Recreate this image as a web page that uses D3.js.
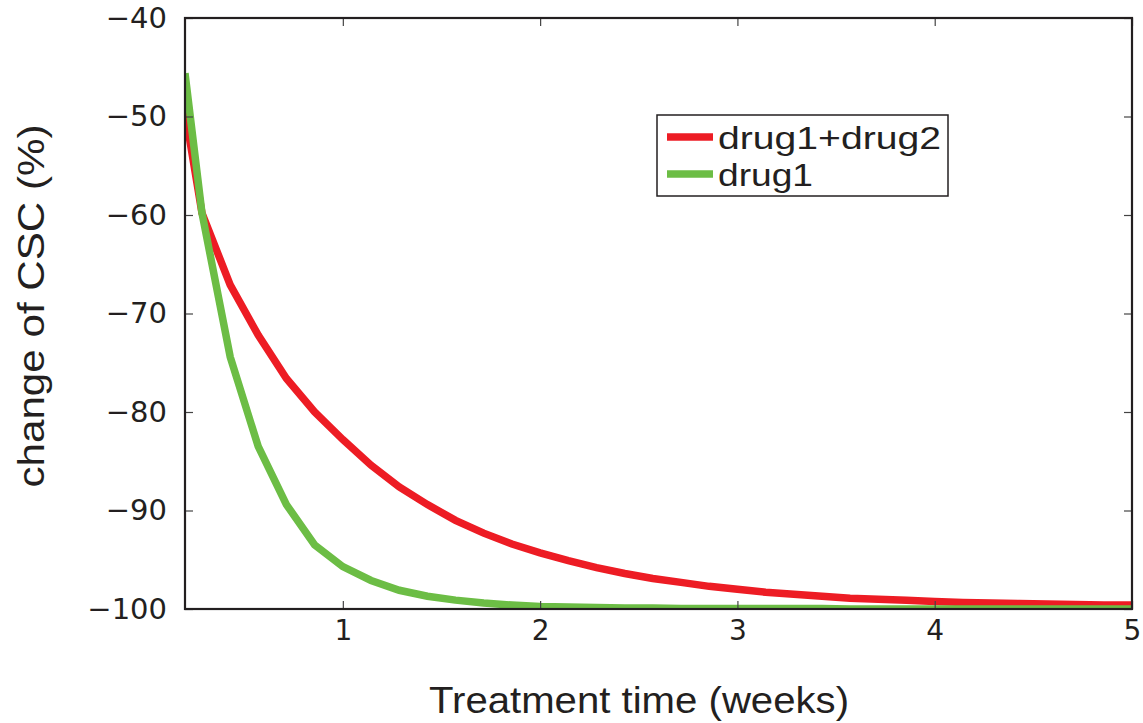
<!DOCTYPE html>
<html>
<head>
<meta charset="utf-8">
<script src="https://cdn.jsdelivr.net/npm/d3@7/dist/d3.min.js"></script>
<style>
    body { margin: 0; background: #fff; }
</style>
</head>
<body>
<div id="grafico"></div>
<script>
// ---------- DATOS ----------
var semanas = [0.2, 0.286, 0.429, 0.571, 0.714, 0.857, 1.0, 1.143, 1.286, 1.429, 1.571, 1.714, 1.857, 2.0,
    2.143, 2.286, 2.429, 2.571, 2.714, 2.857, 3.0, 3.143, 3.286, 3.429, 3.571, 3.714, 3.857, 4.0,
    4.143, 4.286, 4.429, 4.571, 4.714, 4.857, 5.0];

var drug1drug2 = [-49.5, -59.8, -67.1, -72.2, -76.6, -80.0, -82.8, -85.4, -87.6, -89.4, -91.0, -92.3, -93.4, -94.3,
    -95.1, -95.8, -96.4, -96.9, -97.3, -97.7, -98.0, -98.3, -98.5, -98.7, -98.9, -99.0, -99.1, -99.25,
    -99.35, -99.4, -99.45, -99.5, -99.55, -99.6, -99.6];

var drug1 = [-45.6, -59.8, -74.4, -83.5, -89.4, -93.5, -95.7, -97.1, -98.1, -98.7, -99.1, -99.4, -99.6, -99.75,
    -99.8, -99.85, -99.9, -99.9, -99.95, -99.95, -99.95, -99.95, -99.95, -99.95, -100, -100, -100, -100,
    -100, -100, -100, -100, -100, -100, -100];

var nombresSeries = ['drug1+drug2', 'drug1'];
var coloresSeries = ['#ed1c24', '#6cbd45'];

var xTicks = [1, 2, 3, 4, 5];
var xTickLabels = ['1', '2', '3', '4', '5'];
var yTicks = [-100, -90, -80, -70, -60, -50, -40];
var yTickLabels = ['\u2212100', '\u221290', '\u221280', '\u221270', '\u221260', '\u221250', '\u221240'];

var tituloX = 'Treatment time (weeks)';
var tituloY = 'change of CSC (%)';

// ---------- TAMAÑO ----------
var ancho = 1143, alto = 723;
var izq = 185, der = 1132, arriba = 18, abajo = 609;
var colorTexto = '#231f20';

var svg = d3.select('#grafico').append('svg')
    .attr('width', ancho)
    .attr('height', alto)
    .style('display', 'block');

svg.append('rect').attr('width', ancho).attr('height', alto).attr('fill', '#fff');

// ---------- ESCALAS ----------
var scale_x = d3.scaleLinear().domain([0.2, 5]).range([izq, der]);
var scale_y = d3.scaleLinear().domain([-100, -40]).range([abajo, arriba]);

// recorte al area del grafico
svg.append('clipPath').attr('id', 'recorte')
    .append('rect')
    .attr('x', izq).attr('y', arriba)
    .attr('width', der - izq).attr('height', abajo - arriba);

// ---------- LINEAS ----------
var line = d3.line()
    .x(function (d) { return scale_x(d[0]); })
    .y(function (d) { return scale_y(d[1]); });

var series = [drug1drug2, drug1];
series.forEach(function (valores, i) {
    var puntos = semanas.map(function (s, j) { return [s, valores[j]]; });
    svg.append('path')
        .attr('d', line(puntos))
        .attr('clip-path', 'url(#recorte)')
        .attr('fill', 'none')
        .attr('stroke', coloresSeries[i])
        .attr('stroke-width', 7.5)
        .attr('stroke-linejoin', 'miter');
});

// ---------- EJES (ticks hacia adentro) ----------
function estiloEje(tam) {
    return function (g) {
        g.select('.domain').remove();
        g.selectAll('.tick line').attr('stroke', '#444').attr('stroke-width', 1.2);
        g.selectAll('.tick text')
            .attr('fill', colorTexto)
            .style('font-family', '"DejaVu Sans", sans-serif')
            .style('font-size', tam + 'px');
    };
}

svg.append('g')
    .attr('transform', 'translate(0,' + abajo + ')')
    .call(d3.axisBottom(scale_x).tickValues(xTicks).tickSizeInner(-8).tickSizeOuter(0).tickPadding(11)
        .tickFormat(function (d, i) { return xTickLabels[i]; }))
    .call(estiloEje(28));

svg.append('g')
    .attr('transform', 'translate(' + izq + ',0)')
    .call(d3.axisLeft(scale_y).tickValues(yTicks).tickSizeInner(-8).tickSizeOuter(0).tickPadding(18)
        .tickFormat(function (d, i) { return yTickLabels[i]; }))
    .call(estiloEje(29));

svg.append('g')
    .attr('transform', 'translate(0,' + arriba + ')')
    .call(d3.axisTop(scale_x).tickValues(xTicks).tickSizeInner(-8).tickSizeOuter(0).tickFormat(''))
    .call(estiloEje(28));

svg.append('g')
    .attr('transform', 'translate(' + der + ',0)')
    .call(d3.axisRight(scale_y).tickValues(yTicks).tickSizeInner(-8).tickSizeOuter(0).tickFormat(''))
    .call(estiloEje(28));

// marco
svg.append('rect')
    .attr('x', izq).attr('y', arriba)
    .attr('width', der - izq).attr('height', abajo - arriba)
    .attr('fill', 'none')
    .attr('stroke', colorTexto)
    .attr('stroke-width', 2.2);

// ---------- TITULOS ----------
svg.append('text')
    .attr('x', 639)
    .attr('y', 713)
    .attr('text-anchor', 'middle')
    .attr('textLength', 420)
    .attr('lengthAdjust', 'spacingAndGlyphs')
    .style('font-family', '"Liberation Sans", Arial, sans-serif')
    .style('font-size', '37px')
    .attr('fill', colorTexto)
    .text(tituloX);

svg.append('text')
    .attr('transform', 'translate(44,306) rotate(-90)')
    .attr('text-anchor', 'middle')
    .attr('textLength', 363)
    .attr('lengthAdjust', 'spacingAndGlyphs')
    .style('font-family', '"Liberation Sans", Arial, sans-serif')
    .style('font-size', '37px')
    .attr('fill', colorTexto)
    .text(tituloY);

// ---------- LEYENDA ----------
var leyenda = svg.append('g');
leyenda.append('rect')
    .attr('x', 657).attr('y', 115)
    .attr('width', 291).attr('height', 81)
    .attr('fill', '#fff')
    .attr('stroke', colorTexto)
    .attr('stroke-width', 1.5);

var largosTexto = [223, 95];
nombresSeries.forEach(function (nombre, i) {
    var yc = 137 + i * 37;
    leyenda.append('line')
        .attr('x1', 667).attr('x2', 713)
        .attr('y1', yc).attr('y2', yc)
        .attr('stroke', coloresSeries[i])
        .attr('stroke-width', 7.5);
    leyenda.append('text')
        .attr('x', 718)
        .attr('y', yc + 12)
        .attr('textLength', largosTexto[i])
        .attr('lengthAdjust', 'spacingAndGlyphs')
        .style('font-family', '"Liberation Sans", Arial, sans-serif')
        .style('font-size', '31px')
        .attr('fill', colorTexto)
        .text(nombre);
});
</script>
</body>
</html>
